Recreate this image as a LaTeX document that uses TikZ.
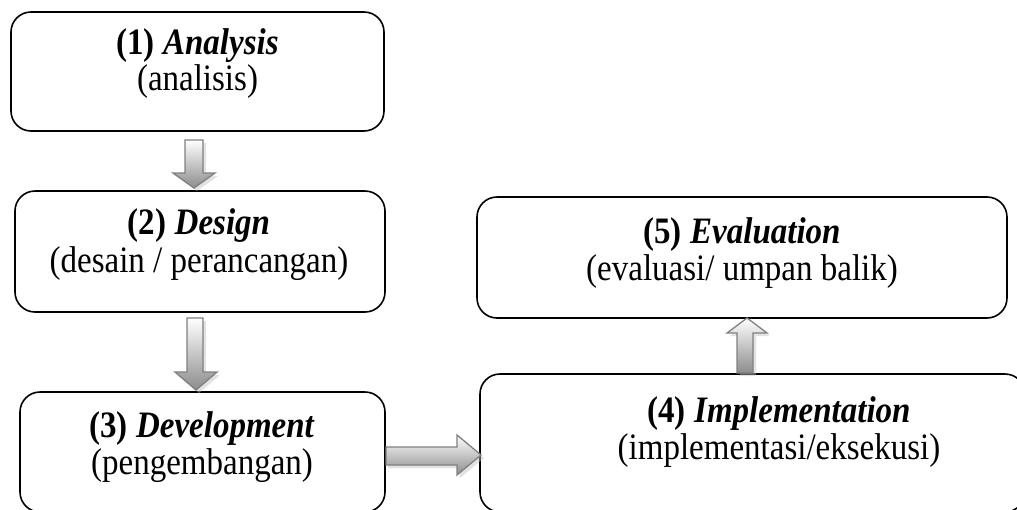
\documentclass[tikz,border=0pt]{standalone}
\usepackage{graphicx}
\usepackage{fontspec}
\setmainfont{Liberation Serif}
\newcommand{\tallt}[1]{\scalebox{1.0}[1.13]{#1}}
\begin{document}
\begin{tikzpicture}[x=1pt,y=-1pt,
  box/.style={draw=black, line width=1.6pt, rounded corners=20pt, inner sep=0pt, fill=white},
  lbl/.style={anchor=base, inner sep=0pt, font=\fontsize{33}{36}\selectfont},
  blockarrow/.style={top color=white, bottom color=black!45, draw=black!50, line width=1.3pt, line join=miter},
  arrowshadow/.style={fill=black!25, opacity=0.45, draw=none}]
\useasboundingbox (0,0) rectangle (1017,509);
% boxes
\node[box, minimum width=373pt, minimum height=119pt] (b1) at (197.5,71.5) {};
\node[box, minimum width=370pt, minimum height=121pt] (b2) at (200,251.5) {};
\node[box, minimum width=365pt, minimum height=120pt] (b3) at (202.5,452) {};
\node[box, minimum width=545pt, minimum height=138pt] (b4) at (752.5,443) {};
\node[box, minimum width=530pt, minimum height=121pt] (b5) at (742,257.5) {};
% texts
\node[lbl] (t1a) at (197.5,54) {\tallt{\textbf{(1)} \textbf{\textit{Analysis}}}};
\node[lbl] (t1b) at (197.5,90) {\tallt{(analisis)}};
\node[lbl] (t2a) at (199,234) {\tallt{\textbf{(2)} \textbf{\textit{Design}}}};
\node[lbl] (t2b) at (199,272) {\tallt{(desain / perancangan)}};
\node[lbl] (t3a) at (202,437) {\tallt{\textbf{(3)} \textbf{\textit{Development}}}};
\node[lbl] (t3b) at (202,474) {\tallt{(pengembangan)}};
\node[lbl] (t4a) at (779,422) {\tallt{\textbf{(4)} \textbf{\textit{Implementation}}}};
\node[lbl] (t4b) at (779,459) {\tallt{(implementasi/eksekusi)}};
\node[lbl] (t5a) at (742,243) {\tallt{\textbf{(5)} \textbf{\textit{Evaluation}}}};
\node[lbl] (t5b) at (742,280) {\tallt{(evaluasi/ umpan balik)}};
% arrow 1 (b1 -> b2)
\fill[arrowshadow] (188,143) -- (206,143) -- (206,176) -- (218,176) -- (197,191) -- (176,176) -- (188,176) -- cycle;
\shadedraw[blockarrow] (185,140) -- (203,140) -- (203,173) -- (215,173) -- (194,188) -- (173,173) -- (185,173) -- cycle;
% arrow 2 (b2 -> b3)
\fill[arrowshadow] (190,321) -- (206,321) -- (206,375) -- (220,375) -- (199,393) -- (178,375) -- (190,375) -- cycle;
\shadedraw[blockarrow] (187,318) -- (203,318) -- (203,372) -- (217,372) -- (196,390) -- (175,372) -- (187,372) -- cycle;
% arrow 3 (b3 -> b4)
\fill[arrowshadow] (388,450) -- (460,450) -- (460,438) -- (484,458) -- (460,478) -- (460,468) -- (388,468) -- cycle;
\shadedraw[blockarrow] (386,447) -- (457,447) -- (457,435) -- (481,455) -- (457,475) -- (457,465) -- (386,465) -- cycle;
% arrow 4 (b4 -> b5)
\fill[arrowshadow] (740,376) -- (756,376) -- (756,336) -- (770,336) -- (750,321) -- (730,336) -- (740,336) -- cycle;
\shadedraw[blockarrow] (737,373) -- (753,373) -- (753,333) -- (767,333) -- (747,318) -- (727,333) -- (737,333) -- cycle;
\end{tikzpicture}
\end{document}
